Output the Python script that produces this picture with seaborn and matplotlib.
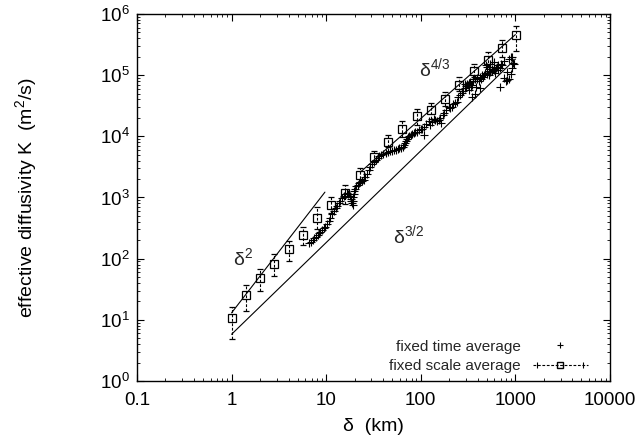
import numpy as np
import pandas as pd
import matplotlib
matplotlib.use("Agg")
import matplotlib.pyplot as plt
import seaborn as sns
from matplotlib.lines import Line2D
from matplotlib.legend_handler import HandlerLine2D, HandlerTuple
from matplotlib.ticker import LogLocator, FixedLocator, FixedFormatter, NullFormatter

# fixed scale average (squares with error bars)
scale_delta = [1.0, 1.41, 2.0, 2.83, 4.0, 5.66, 8.0, 11.3, 16.0, 22.6, 32.0, 45.3,
               64.0, 90.5, 128.0, 181.0, 256.0, 362.0, 512.0, 724.0, 1024.0]
scale_K = [10.8, 25.7, 48, 83, 143, 245, 466, 760, 1170, 2300, 4620, 8130,
           13400, 21100, 26800, 40600, 69800, 116000, 174000, 275000, 448000]
scale_K_low = [4.8, 14.1, 30, 52, 91, 165, 300, 560, 780, 1750, 3800, 6760,
               9800, 15200, 19000, 31000, 55000, 92000, 138000, 200000, 250000]
scale_K_high = [16.4, 36.9, 67, 117, 196, 324, 690, 1030, 1600, 3000, 5800, 10500,
                17800, 27700, 35000, 53000, 92000, 150000, 238000, 375000, 630000]

# fixed time average (crosses)
time_delta = [6.56, 6.9, 7.2, 7.5, 7.8, 8.1, 8.4, 8.7, 9.0, 9.4, 9.8, 10.2, 10.6,
              11.1, 11.6, 12.1, 12.6, 13.1, 13.6, 14.1, 14.7, 15.3, 16.0, 16.6, 17.2,
              17.7, 18.1, 18.5, 18.8, 19.0, 19.1, 19.3, 19.6, 19.9, 20.4, 20.9, 21.5,
              22.2, 23.0, 24.0, 25.0, 26.0, 27.0, 28.1, 29.3, 30.6, 32.0, 33.5, 35.0,
              36.6, 38.4, 40.3, 42.5, 44.8, 47.2, 49.6, 52.0, 54.5, 57.0, 59.5, 62.0,
              64.5, 66.5, 68.0, 69.5, 71.0, 73.0, 75.5, 78.0, 81.0, 84.0, 87.5, 91.0,
              95, 100, 104, 107, 107, 114, 121, 126, 131, 137, 142, 148, 154, 158, 163,
              170, 178, 186, 197, 205, 213, 220, 230, 240, 250, 258, 270, 280, 290,
              296, 300, 310, 317, 320, 325, 331, 340, 347, 350, 355, 360, 370, 375,
              380, 390, 397, 410, 420, 425, 430, 445, 460, 470, 480, 485, 500, 505,
              520, 525, 530, 545, 545, 560, 570, 590, 590, 600, 610, 620, 640, 650,
              660, 680, 680, 700, 720, 750, 750, 790, 820, 820, 850, 850, 890, 890,
              930, 930, 940, 965]
time_K = [178, 190, 202, 215, 228, 243, 258, 275, 292, 312, 333, 365, 415,
          470, 535, 600, 664, 730, 800, 880, 966, 1060, 1150, 1180, 1150,
          1060, 960, 870, 800, 760, 880, 1000, 1150, 1300, 1400, 1520, 1620,
          1730, 1820, 1870, 1900, 2150, 2450, 2800, 3150, 3500, 3800, 4150, 4450,
          4700, 4950, 5200, 5400, 5550, 5650, 5800, 5900, 6050, 6200, 6350, 6550,
          6800, 7200, 7800, 8500, 9200, 9800, 10300, 10700, 11100, 11400, 11700, 11900,
          12600, 13000, 13400, 14300, 10500, 16000, 17700, 15400, 17300, 19000, 18400, 17800, 18400, 20000, 16600,
          22000, 24500, 26800, 30200, 29000, 30200, 34000, 35500, 36900, 44500, 47000, 52000, 56000, 60700,
          72000, 66000, 72000, 69000, 75000, 57000, 77500, 64000, 44500, 69000, 80000, 88000, 85000, 50000,
          64000, 90000, 88000, 80000, 95000, 61000, 85000, 100000, 92000, 100000, 110000, 145000, 138000, 106000,
          115000, 100000, 125000, 112000, 150000, 125000, 118000, 120000, 165000, 135000, 110000, 129000, 138000, 120000,
          145000, 64000, 130000, 150000, 145000, 170000, 90000, 80000, 83000, 112000, 88000, 187000, 106000, 200000,
          130000, 195000, 160000, 150000]

# power-law guide lines
slope2_delta = [1.0, 9.7]
slope2_K = [13.0, 1223.0]
slope32_delta = [1.0, 1000.0]
slope32_K = [5.8, 183000.0]
slope43_delta = [23.0, 1000.0]
slope43_K = [2600.0, 460000.0]

xtick_vals = [0.1, 1, 10, 100, 1000, 10000]
xtick_labels = ["0.1", "1", "10", "100", "1000", "10000"]

sns.set_theme(style="ticks")
plt.rcParams["font.family"] = ["Liberation Sans", "DejaVu Sans"]
plt.rcParams["mathtext.fontset"] = "custom"
plt.rcParams["mathtext.rm"] = "Liberation Sans"
plt.rcParams["mathtext.it"] = "Liberation Sans"
plt.rcParams["mathtext.default"] = "regular"

fig = plt.figure(figsize=(6.41, 4.47), dpi=100)
ax = fig.add_axes([0.2137, 0.1477, 0.7379, 0.821])

time_df = pd.DataFrame({"delta": time_delta, "K": time_K})
sns.scatterplot(data=time_df, x="delta", y="K", marker="+", s=30, color="black",
                linewidth=0.8, ax=ax, legend=False, zorder=3)

sd = np.array(scale_delta)
sk = np.array(scale_K)
yerr = [sk - np.array(scale_K_low), np.array(scale_K_high) - sk]
eb = ax.errorbar(sd, sk, yerr=yerr, fmt="s", ms=5.5, mfc="none", mec="black",
                 mew=0.9, ecolor="black", elinewidth=0.8, capsize=2, capthick=0.8,
                 zorder=4)
eb[2][0].set_linestyle((0, (2.5, 1.5)))

for xs, ys in [(slope2_delta, slope2_K), (slope32_delta, slope32_K), (slope43_delta, slope43_K)]:
    sns.lineplot(x=xs, y=ys, color="black", linewidth=0.8, ax=ax, zorder=2)

ax.set_xscale("log")
ax.set_yscale("log")
ax.set_xlim(0.1, 10000)
ax.set_ylim(1, 1e6)

ax.xaxis.set_major_locator(FixedLocator(xtick_vals))
ax.xaxis.set_major_formatter(FixedFormatter(xtick_labels))
ax.xaxis.set_minor_locator(LogLocator(base=10, subs=np.arange(2, 10), numticks=20))
ax.xaxis.set_minor_formatter(NullFormatter())
ax.yaxis.set_major_locator(LogLocator(base=10, numticks=10))
ax.yaxis.set_minor_locator(LogLocator(base=10, subs=np.arange(2, 10), numticks=20))
ax.yaxis.set_minor_formatter(NullFormatter())

ax.tick_params(which="both", direction="in", top=True, right=True, color="black",
               labelsize=13.5, labelcolor="black")
ax.tick_params(which="major", length=5, width=0.8)
ax.tick_params(axis="x", which="major", pad=8)
ax.tick_params(axis="y", which="major", pad=5)
ax.tick_params(which="minor", length=2.5, width=0.6)
for sp in ax.spines.values():
    sp.set_color("black")
    sp.set_linewidth(1.0)

ax.set_xlabel("δ  (km)", fontsize=14, color="black")
ax.set_ylabel("effective diffusivity K  (m$^2$/s)", fontsize=14, color="black")
ax.xaxis.set_label_coords(0.5, -0.1)
ax.yaxis.set_label_coords(-0.207, 0.5)

ax.text(141, 129000, "δ$^{4/3}$", fontsize=14, ha="center", va="center")
ax.text(75, 243, "δ$^{3/2}$", fontsize=14, ha="center", va="center")
ax.text(1.32, 102, "δ$^{2}$", fontsize=14, ha="center", va="center")

h_time = Line2D([], [], ls="none", marker="+", color="black", ms=5, mew=0.8)
h_scale = Line2D([], [], ls=(0, (2.5, 1.5)), lw=0.8, marker="s", ms=5, mfc="none",
                 mec="black", color="black")
h_caps = Line2D([], [], ls="none", marker="|", ms=4, mew=0.8, color="black")
ax.legend([h_time, (h_scale, h_caps)], ["fixed time average", "fixed scale average"],
          handler_map={h_caps: HandlerLine2D(numpoints=2), tuple: HandlerTuple(ndivide=1)},
          loc="lower right", bbox_to_anchor=(0.982, -0.016), markerfirst=False,
          frameon=False, fontsize=11, handlelength=3.6, handletextpad=0.8,
          labelspacing=0.36, numpoints=1)

fig.savefig("out.png", dpi=100)
